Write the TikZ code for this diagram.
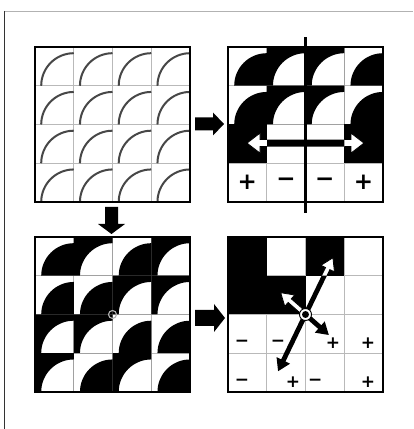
\documentclass[tikz,border=0pt]{standalone}
\usepackage{fontspec}
\newfontfamily\signfont{DejaVu Sans}
\usetikzlibrary{calc}
\tikzset{
 gridline/.style={draw=gray!55, line width=0.8pt},
 border/.style={draw=black, line width=1.6pt},
 arcline/.style={draw=black!72, line width=2pt},
 panel/.style={minimum size=155pt, inner sep=0pt, outer sep=0pt},
 bigsign/.style={font=\signfont\bfseries\fontsize{23}{23}\selectfont, inner sep=0pt},
 smallsign/.style={font=\signfont\bfseries\fontsize{17}{17}\selectfont, inner sep=0pt},
 whitearrow/.style={fill=white, draw=black, line width=0.8pt},
 blackarrow/.style={fill=black},
}
\newcommand\tileP[2]{\fill ({#1+1},{3-#2}) -- ++(-0.84,0) arc[start angle=180,end angle=90,radius=0.84] -- cycle;}
\newcommand\tileM[2]{\fill[even odd rule] ({#1},{3-#2}) rectangle ++(1,1) ({#1+1},{3-#2}) -- ++(-0.84,0) arc[start angle=180,end angle=90,radius=0.84] -- cycle;}
\newcommand\tileB[2]{\fill ({#1},{3-#2}) rectangle ++(1,1);}
\newcommand\arcT[2]{\draw[arcline] ({#1+0.16},{3-#2}) arc[start angle=180,end angle=90,radius=0.84];}
% style, tipA, tipB, shaft half, head half, head length
\newcommand\dblarrow[6]{\path[#1] (#2,0) -- ({#2+#6},#5) -- ({#2+#6},#4) -- ({#3-#6},#4) -- ({#3-#6},#5) -- (#3,0) -- ({#3-#6},-#5) -- ({#3-#6},-#4) -- ({#2+#6},-#4) -- ({#2+#6},-#5) -- cycle;}
% start, angle, length, shaft half, head half, head length
\newcommand\blockarrow[6]{\fill[shift={#1}, rotate=#2] (0,-#4) -- ({#3-#6},-#4) -- ({#3-#6},-#5) -- (#3,0) -- ({#3-#6},#5) -- ({#3-#6},#4) -- (0,#4) -- cycle;}
\begin{document}
\begin{tikzpicture}[x=1pt,y=1pt]
\useasboundingbox (0,0) rectangle (413,429);
\fill[white] (0,0) rectangle (413,429);
\draw[gray!60, line width=0.8pt] (4,418) -- (413,418);
\draw[black!80, line width=1pt] (4,418) -- (4,0);

\node[panel] (tl) at (112.5,304.5) {};
\node[panel] (tr) at (305.5,304.5) {};
\node[panel] (bl) at (112.5,114.5) {};
\node[panel] (br) at (305.5,114.5) {};

% top left: plain tiles
\begin{scope}[shift={(tl.south west)}, x=38.75pt, y=38.75pt]
 \draw[gridline, step=1] (0,0) grid (4,4);
 \foreach \i in {0,...,3}{\foreach \j in {0,...,3}{\arcT{\i}{\j}}}
\end{scope}

% top right: mirror
\begin{scope}[shift={(tr.south west)}, x=38.75pt, y=38.75pt]
 \draw[gridline, step=1] (0,0) grid (4,4);
 \foreach \j in {0,1}{\tileP{0}{\j}\tileM{1}{\j}\tileM{2}{\j}\tileP{3}{\j}}
 \tileB{0}{2}\tileB{3}{2}
 \node[bigsign] at (0.5,0.5) {+};
 \node[bigsign] at (1.5,0.5) {−};
 \node[bigsign] at (2.5,0.5) {−};
 \node[bigsign] at (3.5,0.5) {+};
 \begin{scope}[shift={(2,1.52)}, x=1pt, y=1pt]
  \dblarrow{blackarrow}{-58.5}{58.5}{3.5}{10}{13}
 \end{scope}
 \begin{scope}
  \clip (0,1) rectangle (1,2) (3,1) rectangle (4,2);
  \begin{scope}[shift={(2,1.52)}, x=1pt, y=1pt]
   \dblarrow{whitearrow}{-58.5}{58.5}{3.5}{10}{13}
  \end{scope}
 \end{scope}
 \coordinate (axtop) at (2,4.26);
 \coordinate (axbot) at (2,-0.28);
 \draw[line width=2.3pt] (axbot) -- (axtop);
\end{scope}

% bottom left: coloured tiles
\begin{scope}[shift={(bl.south west)}, x=38.75pt, y=38.75pt]
 \draw[gridline, step=1] (0,0) grid (4,4);
 \tileP{0}{0}\tileM{1}{0}\tileP{2}{0}\tileM{3}{0}
 \tileP{0}{1}\tileP{1}{1}\tileM{2}{1}\tileM{3}{1}
 \tileM{0}{2}\tileM{1}{2}\tileP{2}{2}\tileP{3}{2}
 \tileM{0}{3}\tileP{1}{3}\tileM{2}{3}\tileP{3}{3}
 \draw[gray!60, line width=1.1pt] (2,2) circle (4pt);
\end{scope}

% bottom right: summary
\begin{scope}[shift={(br.south west)}, x=38.75pt, y=38.75pt]
 \draw[gridline, step=1] (0,0) grid (4,4);
 \tileB{0}{0}\tileB{2}{0}\tileB{0}{1}\tileB{1}{1}
 \node[smallsign] at (0.36,1.25) {−};
 \node[smallsign] at (1.29,1.25) {−};
 \node[smallsign] at (2.71,1.25) {+};
 \node[smallsign] at (3.61,1.25) {+};
 \node[smallsign] at (0.36,0.26) {−};
 \node[smallsign] at (1.68,0.26) {+};
 \node[smallsign] at (2.25,0.26) {−};
 \node[smallsign] at (3.61,0.26) {+};
 \begin{scope}[shift={(2,2)}, rotate=64.2, x=1pt, y=1pt]
  \dblarrow{blackarrow}{-63}{63}{2.4}{7.5}{12}
 \end{scope}
 \begin{scope}[shift={(2,2)}, rotate=-41.3, x=1pt, y=1pt]
  \dblarrow{blackarrow}{-33}{31}{2.4}{7.5}{12}
 \end{scope}
 \begin{scope}
  \clip (0,3) rectangle (1,4) (2,3) rectangle (3,4) (0,2) rectangle (2,3);
  \begin{scope}[shift={(2,2)}, rotate=64.2, x=1pt, y=1pt]
   \dblarrow{whitearrow}{-63}{63}{2.4}{7.5}{12}
  \end{scope}
  \begin{scope}[shift={(2,2)}, rotate=-41.3, x=1pt, y=1pt]
   \dblarrow{whitearrow}{-33}{31}{2.4}{7.5}{12}
  \end{scope}
 \end{scope}
 \filldraw[fill=white, draw=black, line width=0.9pt] (2,2) circle (6pt);
 \fill[black] (2,2) circle (3.5pt);
\end{scope}

\foreach \p in {tl,tr,bl,br}{\draw[border] (\p.south west) rectangle (\p.north east);}

\blockarrow{($(tl.east)+(5,0.5)$)}{0}{29}{6.5}{11.5}{11}
\blockarrow{($(tl.south)+(-1,-5)$)}{-90}{27}{6.5}{13.5}{10}
\blockarrow{($(bl.east)+(5,-3.5)$)}{0}{30}{8}{14}{11}
\end{tikzpicture}
\end{document}
